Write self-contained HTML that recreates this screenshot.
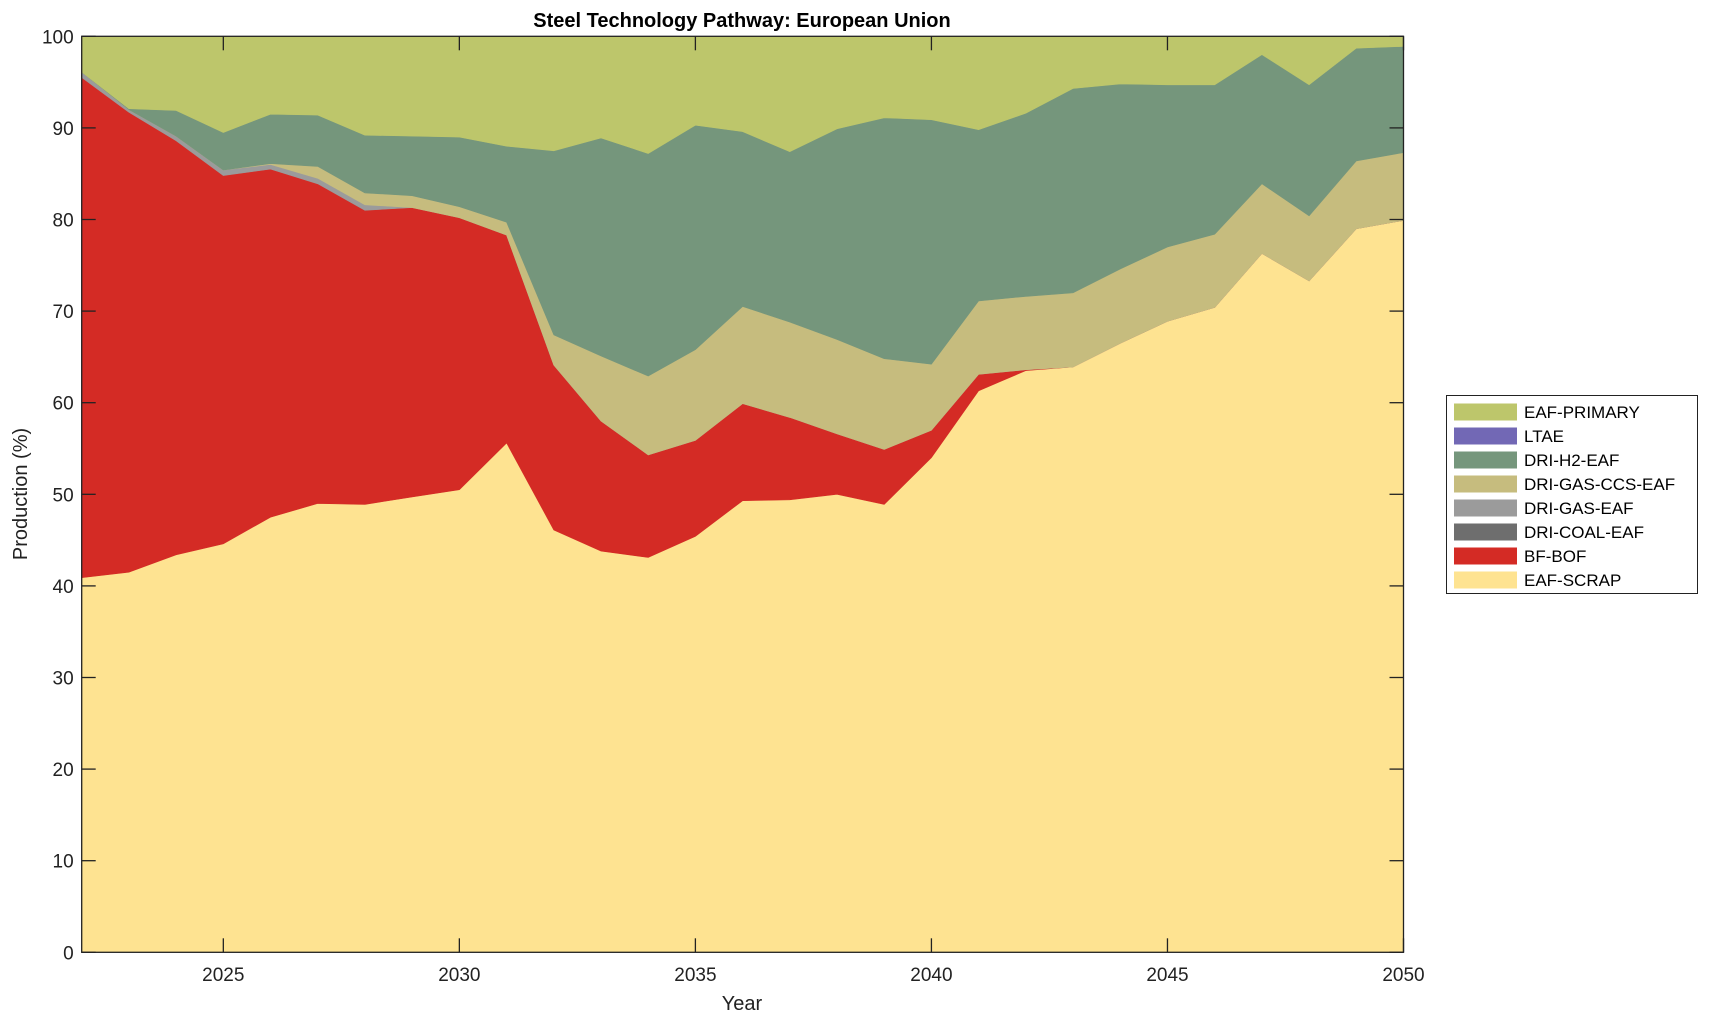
<!DOCTYPE html>
<html><head><meta charset="utf-8"><style>
html,body{margin:0;padding:0;background:#fff;}
svg{display:block;font-family:"Liberation Sans",Arial,sans-serif;}
</style></head><body>
<svg id="c" width="1709" height="1021" viewBox="0 0 1709 1021" xmlns="http://www.w3.org/2000/svg">
<g id="areas"></g>
<g id="axes" stroke="#222" stroke-width="1.3" fill="none"></g>
<g id="lbl" fill="#222" font-size="19"></g>
<text x="742" y="27" text-anchor="middle" font-size="20" font-weight="bold" fill="#000">Steel Technology Pathway: European Union</text>
<text x="742" y="1010" text-anchor="middle" font-size="20" fill="#222">Year</text>
<text transform="translate(27,494) rotate(-90)" text-anchor="middle" font-size="20" fill="#222">Production (%)</text>
<rect x="1446.5" y="395.5" width="251" height="198" fill="#fff" stroke="#222" stroke-width="1"/>
<g id="leg" font-size="17" fill="#000"></g>
</svg>
<script>
(function(){
var L=81.7,R=1403.5,T=36.3,B=952.3;
function X(i){return L+(R-L)*i/28;}
function Y(v){return B-(B-T)*v/100;}
var scrap=[40.9,41.5,43.4,44.6,47.5,49.0,48.9,49.7,50.5,55.6,46.1,43.8,43.1,45.4,49.3,49.4,50.0,48.9,54.0,61.3,63.5,63.9,66.5,68.9,70.4,76.3,73.3,79.0,79.9];
var bf=[95.5,91.7,88.6,84.8,85.5,83.9,81.0,81.3,80.2,78.3,64.1,58.0,54.3,55.9,59.9,58.4,56.6,54.9,57.0,63.1,63.6];
var gas=[96.1,92.0,89.1,85.4,86.0,84.5,81.6,81.3,80.2];
var ccs=[96.1,92.0,89.1,85.4,86.1,85.8,82.9,82.6,81.4,79.7,67.4,65.1,62.9,65.8,70.5,68.8,66.9,64.8,64.2,71.1,71.6,72.0,74.6,77.0,78.4,83.9,80.4,86.4,87.3];
var h2=[96.1,92.1,91.9,89.5,91.5,91.4,89.2,89.1,89.0,88.0,87.5,88.9,87.2,90.3,89.6,87.4,89.9,91.1,90.9,89.8,91.6,94.3,94.8,94.7,94.7,98.0,94.7,98.7,98.9];
function ext(a,b){var r=[];for(var i=0;i<29;i++)r.push(i<a.length?Math.max(a[i],b[i]):b[i]);return r;}
bf=ext(bf,scrap);gas=ext(gas,bf);ccs=ext(ccs,gas);h2=ext(h2,ccs);
var full=[],zero=[];for(var i=0;i<29;i++){full.push(100);zero.push(0);}
var layers=[[zero,scrap,"#FEE391"],[scrap,bf,"#D42B25"],[bf,gas,"#9B9B9B"],[gas,ccs,"#C6BC7E"],[ccs,h2,"#75967C"],[h2,full,"#BDC66B"]];
var ns="http://www.w3.org/2000/svg";
var ga=document.getElementById("areas");
layers.forEach(function(l){var p=[];for(var i=0;i<29;i++)p.push(X(i).toFixed(1)+","+Y(l[1][i]).toFixed(1));for(i=28;i>=0;i--)p.push(X(i).toFixed(1)+","+Y(l[0][i]).toFixed(1));
var e=document.createElementNS(ns,"polygon");e.setAttribute("points",p.join(" "));e.setAttribute("fill",l[2]);e.setAttribute("stroke",l[2]);e.setAttribute("stroke-width","0.6");ga.appendChild(e);});
var ax=document.getElementById("axes"),lb=document.getElementById("lbl");
function line(x1,y1,x2,y2){var e=document.createElementNS(ns,"line");e.setAttribute("x1",x1);e.setAttribute("y1",y1);e.setAttribute("x2",x2);e.setAttribute("y2",y2);ax.appendChild(e);}
function txt(x,y,s,a){var e=document.createElementNS(ns,"text");e.setAttribute("x",x);e.setAttribute("y",y);e.setAttribute("text-anchor",a);e.textContent=s;lb.appendChild(e);}
var r=document.createElementNS(ns,"rect");r.setAttribute("x",L);r.setAttribute("y",T);r.setAttribute("width",R-L);r.setAttribute("height",B-T);ax.appendChild(r);
for(var v=0;v<=100;v+=10){var y=Y(v);line(L,y,L+14,y);line(R,y,R-14,y);txt(L-8,y+7,String(v),"end");}
for(var yr=2025;yr<=2050;yr+=5){var x=X(yr-2022);line(x,B,x,B-14);line(x,T,x,T+14);txt(x,981,String(yr),"middle");}
var items=[["EAF-PRIMARY","#BDC66B"],["LTAE","#7268B5"],["DRI-H2-EAF","#75967C"],["DRI-GAS-CCS-EAF","#C6BC7E"],["DRI-GAS-EAF","#9B9B9B"],["DRI-COAL-EAF","#6E6E6E"],["BF-BOF","#D42B25"],["EAF-SCRAP","#FEE391"]];
var lg=document.getElementById("leg");
items.forEach(function(it,k){var cy=412+k*24;var s=document.createElementNS(ns,"rect");s.setAttribute("x",1454);s.setAttribute("y",cy-8.5);s.setAttribute("width",63);s.setAttribute("height",17);s.setAttribute("fill",it[1]);lg.appendChild(s);
var t=document.createElementNS(ns,"text");t.setAttribute("x",1524);t.setAttribute("y",cy+6);t.textContent=it[0];lg.appendChild(t);});
})();
</script>
</body></html>
